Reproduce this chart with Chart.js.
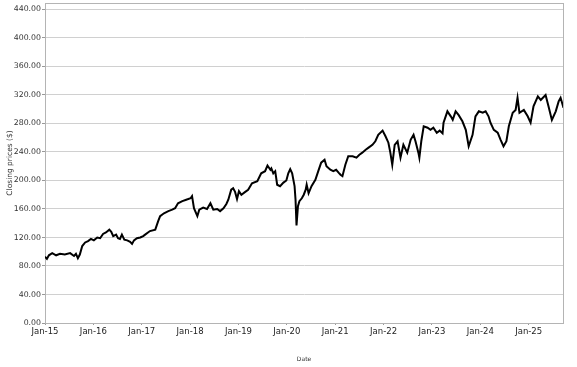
<!DOCTYPE html>
<html>
<head>
<meta charset="utf-8">
<script src="https://cdn.jsdelivr.net/npm/chart.js@4"></script>
<style>
  html, body { margin: 0; padding: 0; background: #fff; }
  #wrap { width: 577px; height: 367px; }
</style>
</head>
<body>
<div id="wrap"><canvas id="priceChart" width="577" height="367"></canvas></div>
<script>
// closing prices (fractional year -> price)
const dates = [
  2015.00, 2015.04, 2015.08, 2015.15, 2015.23, 2015.31, 2015.41, 2015.52, 2015.60, 2015.64,
  2015.68, 2015.72, 2015.77, 2015.83, 2015.89, 2015.95, 2016.01, 2016.08, 2016.14, 2016.20,
  2016.26, 2016.33, 2016.37, 2016.41, 2016.47, 2016.51, 2016.55, 2016.59, 2016.64, 2016.70,
  2016.76, 2016.80, 2016.84, 2016.90, 2016.97, 2017.03, 2017.07, 2017.17, 2017.28, 2017.34,
  2017.38, 2017.46, 2017.55, 2017.63, 2017.69, 2017.75, 2017.84, 2017.92, 2018.01, 2018.04,
  2018.08, 2018.15, 2018.19, 2018.27, 2018.35, 2018.42, 2018.48, 2018.56, 2018.62, 2018.69,
  2018.75, 2018.79, 2018.85, 2018.89, 2018.93, 2018.97, 2019.01, 2019.06, 2019.14, 2019.20,
  2019.28, 2019.39, 2019.47, 2019.55, 2019.60, 2019.66, 2019.68, 2019.72, 2019.76, 2019.80,
  2019.86, 2019.93, 2019.99, 2020.03, 2020.07, 2020.11, 2020.16, 2020.18, 2020.20, 2020.23,
  2020.26, 2020.31, 2020.35, 2020.39, 2020.41, 2020.45, 2020.51, 2020.59, 2020.65, 2020.71,
  2020.78, 2020.82, 2020.90, 2020.96, 2021.02, 2021.07, 2021.11, 2021.15, 2021.21, 2021.27,
  2021.36, 2021.44, 2021.50, 2021.56, 2021.63, 2021.69, 2021.77, 2021.83, 2021.89, 2021.98,
  2022.04, 2022.10, 2022.14, 2022.18, 2022.23, 2022.29, 2022.35, 2022.41, 2022.49, 2022.56,
  2022.62, 2022.66, 2022.72, 2022.74, 2022.78, 2022.83, 2022.91, 2022.97, 2023.03, 2023.10,
  2023.16, 2023.22, 2023.24, 2023.32, 2023.39, 2023.43, 2023.49, 2023.55, 2023.63, 2023.70,
  2023.76, 2023.84, 2023.90, 2023.97, 2024.05, 2024.11, 2024.17, 2024.21, 2024.28, 2024.36,
  2024.42, 2024.48, 2024.54, 2024.59, 2024.67, 2024.73, 2024.77, 2024.81, 2024.90, 2024.98,
  2025.04, 2025.10, 2025.19, 2025.25, 2025.35, 2025.41, 2025.48, 2025.56, 2025.62, 2025.66,
  2025.72
];
const prices = [
   93,  90,  95,  98,  95,  97,  96,  98,  94,  97,
   91,  96, 108, 113, 115, 118, 116, 120, 119, 125,
  127, 131, 128, 122, 124, 119, 118, 124, 117, 116,
  114, 111, 116, 119, 120, 122, 124, 129, 131, 143,
  150, 154, 157, 159, 161, 168, 171, 173, 175, 178,
  161, 150, 159, 162, 160, 168, 159, 160, 157, 161,
  167, 173, 187, 189, 184, 174, 185, 180, 184, 187,
  196, 199, 210, 213, 221, 215, 217, 210, 213, 194,
  192, 197, 200, 210, 216, 210, 192, 173, 137, 164,
  171, 175, 180, 187, 194, 182, 192, 201, 213, 225,
  229, 220, 215, 213, 215, 211, 208, 206, 222, 234,
  234, 232, 236, 239, 243, 246, 250, 255, 264, 270,
  262, 253, 239, 222, 250, 255, 232, 250, 239, 257,
  264, 255, 239, 232, 255, 276, 274, 271, 274, 267,
  270, 266, 281, 297, 290, 285, 297, 292, 283, 271,
  248, 264, 290, 297, 295, 297, 290, 281, 271, 267,
  257, 248, 255, 276, 295, 299, 316, 295, 299, 290,
  281, 304, 318, 313, 320, 304, 285, 297, 311, 316,
  302
];

const xTicks = [2015, 2016, 2017, 2018, 2019, 2020, 2021, 2022, 2023, 2024, 2025];
const xTickLabels = ['Jan-15', 'Jan-16', 'Jan-17', 'Jan-18', 'Jan-19', 'Jan-20',
                     'Jan-21', 'Jan-22', 'Jan-23', 'Jan-24', 'Jan-25'];
const yTicks = [0, 40, 80, 120, 160, 200, 240, 280, 320, 360, 400, 440];

Chart.defaults.font.family = "'DejaVu Sans', sans-serif";
Chart.defaults.color = '#333';

// grey frame round the plot (top and right sides too)
const plotFrame = {
  id: 'plotFrame',
  beforeDatasetsDraw(chart) {
    const a = chart.chartArea;
    const c = chart.ctx;
    c.save();
    c.strokeStyle = '#b4b4b4';
    c.lineWidth = 1;
    c.strokeRect(Math.round(a.left) + 0.5, Math.round(a.top) + 0.5,
                 Math.round(a.right - a.left), Math.round(a.bottom - a.top));
    c.restore();
  }
};

const ctx = document.getElementById('priceChart').getContext('2d');

new Chart(ctx, {
  type: 'line',
  data: {
    datasets: [{
      label: 'Close',
      data: dates.map((d, i) => ({ x: d, y: prices[i] })),
      borderColor: '#000',
      borderWidth: 2,
      pointRadius: 0,
      tension: 0,
      fill: false
    }]
  },
  options: {
    responsive: false,
    animation: false,
    layout: { padding: { top: 3, right: 14, left: 0, bottom: 0 } },
    plugins: {
      legend: { display: false },
      tooltip: { enabled: false }
    },
    scales: {
      x: {
        type: 'linear',
        min: 2015,
        max: 2025.71,
        afterBuildTicks: (scale) => { scale.ticks = xTicks.map(v => ({ value: v })); },
        afterFit: (scale) => { scale.height = 44; },
        grid: { drawOnChartArea: false, tickLength: 2, tickColor: '#999' },
        border: { color: '#999' },
        ticks: {
          maxRotation: 0,
          autoSkip: false,
          padding: 2,
          font: { size: 8.5 },
          color: '#222',
          callback: (v) => xTickLabels[xTicks.indexOf(v)]
        },
        title: {
          display: true,
          text: 'Date',
          font: { size: 6 },
          color: '#333',
          padding: { top: 0, bottom: 4 }
        }
      },
      y: {
        min: 0,
        max: 449,
        afterBuildTicks: (scale) => { scale.ticks = yTicks.map(v => ({ value: v })); },
        afterFit: (scale) => {
          scale.width = 45;
          scale.paddingTop = 0;
          scale.paddingBottom = 0;
        },
        grid: { color: '#d0d0d0', tickLength: 3, tickColor: '#999' },
        border: { color: '#999' },
        ticks: {
          padding: 1,
          font: { size: 7.8 },
          color: '#333',
          callback: (v) => v.toFixed(2)
        },
        title: {
          display: true,
          text: 'Closing prices ($)',
          font: { size: 7.5 },
          color: '#333',
          padding: { top: 6, bottom: 0 }
        }
      }
    }
  },
  plugins: [plotFrame]
});
</script>
</body>
</html>
